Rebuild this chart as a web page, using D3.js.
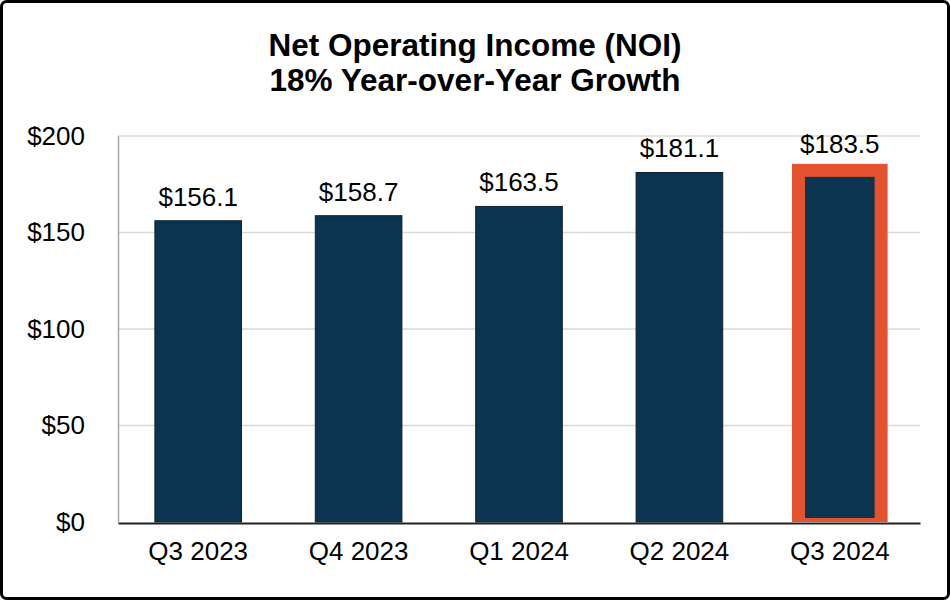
<!DOCTYPE html>
<html lang="en">
<head>
  <meta charset="UTF-8">
  <title>Net Operating Income</title>
  <script src="https://cdn.jsdelivr.net/npm/d3@7"></script>
  <style>
    body { margin: 0; background: #fff; }
    text { font-family: "Liberation Sans", Arial, sans-serif; fill: #000; }
  </style>
</head>
<body>
  <script>
    const quarters = ["Q3 2023", "Q4 2023", "Q1 2024", "Q2 2024", "Q3 2024"];
    const noi = [156.1, 158.7, 163.5, 181.1, 183.5];
    const yTicks = [0, 50, 100, 150, 200];
    const titleLines = ["Net Operating Income (NOI)", "18% Year-over-Year Growth"];
    const highlight = "Q3 2024";

    const w = 950;
    const h = 600;
    const plotLeft = 118, plotRight = 920, plotTop = 136, plotBottom = 522;

    const svg = d3.select("body")
      .append("svg")
      .attr("width", w)
      .attr("height", h);

    svg.append("rect")
      .attr("x", 1.5).attr("y", 1.5)
      .attr("width", w - 3).attr("height", h - 3)
      .attr("rx", 5)
      .attr("fill", "#fff")
      .attr("stroke", "#000")
      .attr("stroke-width", 3);

    svg.selectAll(".title")
      .data(titleLines)
      .enter()
      .append("text")
      .attr("class", "title")
      .attr("x", w / 2)
      .attr("y", (d, i) => 56 + i * 35)
      .attr("text-anchor", "middle")
      .attr("font-size", 31.5)
      .attr("font-weight", "bold")
      .text(d => d);

    const xScale = d3.scaleBand()
      .domain(quarters)
      .range([plotLeft, plotRight])
      .paddingInner(0.46)
      .paddingOuter(0.23);

    const yScale = d3.scaleLinear()
      .domain([0, 200])
      .range([plotBottom, plotTop]);

    // gridlines
    svg.append("g")
      .selectAll("line")
      .data(yTicks.filter(t => t > 0))
      .enter()
      .append("line")
      .attr("x1", plotLeft).attr("x2", plotRight)
      .attr("y1", d => yScale(d)).attr("y2", d => yScale(d))
      .attr("stroke", "#d9d9d9")
      .attr("stroke-width", 1.5);

    // y axis
    const yAxis = d3.axisLeft(yScale)
      .tickValues(yTicks)
      .tickSize(0)
      .tickPadding(33)
      .tickFormat(d => "$" + d);

    const yG = svg.append("g")
      .attr("transform", "translate(" + plotLeft + ",0)")
      .call(yAxis);
    yG.select(".domain").attr("stroke", "#a6a6a6").attr("stroke-width", 1.5);
    yG.selectAll("text")
      .attr("font-size", 26)
      .attr("font-family", "Liberation Sans, Arial, sans-serif")
      .attr("fill", "#000");

    const data = quarters.map((q, i) => ({ q: q, v: noi[i] }));

    // highlight frame behind last bar
    const hl = data.filter(d => d.q === highlight);
    svg.selectAll(".hl")
      .data(hl)
      .enter()
      .append("rect")
      .attr("class", "hl")
      .attr("x", d => xScale(d.q) - 4.5)
      .attr("y", d => yScale(d.v) - 4)
      .attr("width", xScale.bandwidth() + 9)
      .attr("height", d => yScale(0) - yScale(d.v) + 4)
      .attr("fill", "#e5532e");

    svg.selectAll(".bar")
      .data(data)
      .enter()
      .append("rect")
      .attr("class", "bar")
      .attr("x", d => d.q === highlight ? xScale(d.q) + 8.5 : xScale(d.q))
      .attr("y", d => d.q === highlight ? yScale(d.v) + 9 : yScale(d.v))
      .attr("width", d => d.q === highlight ? xScale.bandwidth() - 17 : xScale.bandwidth())
      .attr("height", d => d.q === highlight ? yScale(0) - yScale(d.v) - 13 : yScale(0) - yScale(d.v))
      .attr("fill", "#0a3450")
      .attr("stroke", d => d.q === highlight ? "none" : "#10202c")
      .attr("stroke-width", 1);

    svg.selectAll(".val")
      .data(data)
      .enter()
      .append("text")
      .attr("class", "val")
      .attr("x", d => xScale(d.q) + xScale.bandwidth() / 2)
      .attr("y", d => yScale(d.v) - 15)
      .attr("text-anchor", "middle")
      .attr("font-size", 26)
      .text(d => "$" + d.v.toFixed(1));

    // x axis
    const xAxis = d3.axisBottom(xScale).tickSize(0).tickPadding(19);
    const xG = svg.append("g")
      .attr("transform", "translate(0," + (plotBottom + 1) + ")")
      .call(xAxis);
    xG.select(".domain").attr("stroke", "#222").attr("stroke-width", 2);
    xG.selectAll("text")
      .attr("font-size", 26)
      .attr("font-family", "Liberation Sans, Arial, sans-serif")
      .attr("fill", "#000");
  </script>
</body>
</html>
